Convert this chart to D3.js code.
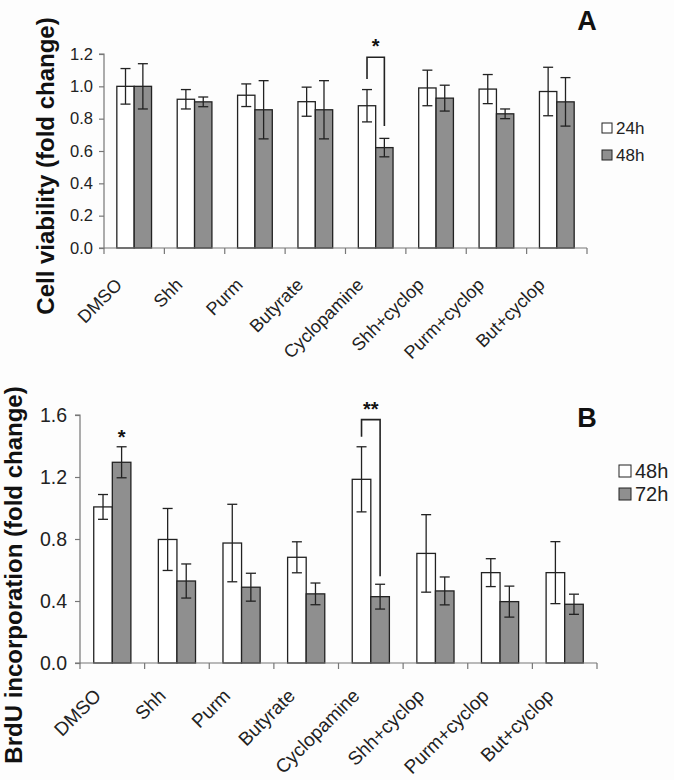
<!DOCTYPE html>
<html>
<head>
<meta charset="utf-8">
<script src="https://cdn.jsdelivr.net/npm/d3@7"></script>
<style>
  body { margin: 0; background: #fff; }
  svg { display: block; font-family: "Liberation Sans", Arial, sans-serif; }
</style>
</head>
<body>
<div id="chart"></div>
<script>
const width = 674;
const height = 780;

const categories = ["DMSO", "Shh", "Purm", "Butyrate", "Cyclopamine", "Shh+cyclop", "Purm+cyclop", "But+cyclop"];

// panel A - cell viability
const viabSeries = ["24h", "48h"];
const viab24 = [1.00, 0.92, 0.945, 0.905, 0.88, 0.99, 0.983, 0.968];
const viab24Err = [0.11, 0.06, 0.07, 0.09, 0.10, 0.11, 0.09, 0.15];
const viab48 = [1.00, 0.904, 0.855, 0.855, 0.621, 0.927, 0.83, 0.904];
const viab48Err = [0.14, 0.03, 0.18, 0.18, 0.057, 0.08, 0.03, 0.15];
const viabTicks = [0, 0.2, 0.4, 0.6, 0.8, 1.0, 1.2];

// panel B - BrdU incorporation
const brduSeries = ["48h", "72h"];
const brdu48 = [1.007, 0.797, 0.774, 0.682, 1.185, 0.707, 0.583, 0.583];
const brdu48Err = [0.08, 0.20, 0.25, 0.10, 0.21, 0.25, 0.09, 0.20];
const brdu72 = [1.295, 0.529, 0.489, 0.446, 0.428, 0.465, 0.396, 0.379];
const brdu72Err = [0.10, 0.11, 0.09, 0.07, 0.08, 0.09, 0.10, 0.065];
const brduTicks = [0, 0.4, 0.8, 1.2, 1.6];

const fills = ["#ffffff", "#8f8f8f"];

const svg = d3.select('#chart')
    .append('svg')
    .attr('width', width)
    .attr('height', height);

svg.append('rect').attr('width', width).attr('height', height).attr('fill', '#fdfdfd');

function drawPanel(p) {
    const g = svg.append('g');
    const x = d3.scaleBand().domain(categories).range([p.left, p.right]);
    const pair = x.bandwidth() * 0.575;
    const x1 = d3.scaleBand().domain(p.series).range([0, pair]);
    const y = d3.scaleLinear().domain([0, p.max]).range([p.bottom, p.top]);

    const rows = [];
    categories.forEach((c, i) => {
        p.values.forEach((vals, s) => {
            rows.push({ cat: c, s: s, v: vals[i], e: p.errors[s][i] });
        });
    });

    const bx = d => x(d.cat) + (x.bandwidth() - pair) / 2 + x1(p.series[d.s]);

    g.selectAll('.bar')
        .data(rows)
        .enter()
        .append('rect')
        .attr('x', bx)
        .attr('y', d => y(d.v))
        .attr('width', x1.bandwidth())
        .attr('height', d => y(0) - y(d.v))
        .attr('fill', d => fills[d.s])
        .attr('stroke', '#222')
        .attr('stroke-width', 1.3);

    // error bars
    const err = g.selectAll('.err')
        .data(rows)
        .enter()
        .append('g')
        .attr('stroke', '#222')
        .attr('stroke-width', 1.3);
    err.append('line')
        .attr('x1', d => bx(d) + x1.bandwidth() / 2)
        .attr('x2', d => bx(d) + x1.bandwidth() / 2)
        .attr('y1', d => y(d.v + d.e))
        .attr('y2', d => y(d.v - d.e));
    err.append('line')
        .attr('x1', d => bx(d) + x1.bandwidth() / 2 - 5)
        .attr('x2', d => bx(d) + x1.bandwidth() / 2 + 5)
        .attr('y1', d => y(d.v + d.e))
        .attr('y2', d => y(d.v + d.e));
    err.append('line')
        .attr('x1', d => bx(d) + x1.bandwidth() / 2 - 5)
        .attr('x2', d => bx(d) + x1.bandwidth() / 2 + 5)
        .attr('y1', d => y(d.v - d.e))
        .attr('y2', d => y(d.v - d.e));

    // y axis
    const yAxis = g.append('g')
        .attr('transform', `translate(${p.left},0)`)
        .call(d3.axisLeft(y).tickValues(p.ticks).tickFormat(d3.format('.1f')).tickSize(5).tickPadding(p.tickPad));
    yAxis.selectAll('path, line').attr('stroke', '#777').attr('stroke-width', 1.2);
    yAxis.select('.domain').attr('d', `M-5,${y(0)}H0V${y(p.max)}H-5`);
    yAxis.selectAll('text').attr('font-size', p.tickFont).attr('fill', '#222')
        .attr('font-family', '"Liberation Sans", Arial, sans-serif');

    // x axis with ticks at category boundaries
    const xg = g.append('g');
    xg.append('line')
        .attr('x1', p.left).attr('x2', p.right)
        .attr('y1', y(0)).attr('y2', y(0))
        .attr('stroke', '#777').attr('stroke-width', 1.2);
    const bounds = categories.map(c => x(c)).concat([p.right]);
    xg.selectAll('.xt')
        .data(bounds)
        .enter()
        .append('line')
        .attr('x1', d => d).attr('x2', d => d)
        .attr('y1', y(0)).attr('y2', y(0) + 6)
        .attr('stroke', '#777').attr('stroke-width', 1.2);
    xg.selectAll('.xl')
        .data(categories)
        .enter()
        .append('text')
        .attr('transform', c => `translate(${x(c) + x.bandwidth() / 2 + p.catDx},${y(0) + p.catDy}) rotate(-45)`)
        .attr('text-anchor', 'end')
        .attr('font-size', p.catFont)
        .attr('fill', '#222')
        .text(c => c);

    // y axis title
    g.append('text')
        .attr('transform', `translate(${p.titleX},${p.titleY}) rotate(-90)`)
        .attr('text-anchor', 'middle')
        .attr('font-size', p.titleFont)
        .attr('font-weight', 'bold')
        .attr('fill', '#111')
        .text(p.title);

    // panel letter
    g.append('text')
        .attr('x', p.letterX).attr('y', p.letterY)
        .attr('text-anchor', 'middle')
        .attr('font-size', 27)
        .attr('font-weight', 'bold')
        .attr('fill', '#111')
        .text(p.letter);

    // legend
    const leg = g.selectAll('.leg')
        .data(p.series)
        .enter()
        .append('g')
        .attr('transform', (d, i) => `translate(${p.legX},${p.legY + i * p.legGap})`);
    leg.append('rect')
        .attr('x', 0).attr('y', -p.legBox / 2)
        .attr('width', p.legBox).attr('height', p.legBox)
        .attr('fill', (d, i) => fills[i])
        .attr('stroke', '#222').attr('stroke-width', 1);
    leg.append('text')
        .attr('x', p.legBox + 4)
        .attr('dy', '0.36em')
        .attr('font-size', p.legFont)
        .attr('fill', '#222')
        .text(d => d);

    // significance marks
    p.marks.forEach(m => {
        const i = categories.indexOf(m.cat);
        const sx = s => x(categories[i]) + (x.bandwidth() - pair) / 2 + x1(p.series[s]) + x1.bandwidth() / 2;
        if (m.bracket) {
            const xa = sx(0), xb = sx(1);
            const topY = y(m.top);
            g.append('path')
                .attr('d', `M${xa},${y(m.leftEnd)}V${topY}H${xb}V${y(m.rightEnd)}`)
                .attr('fill', 'none')
                .attr('stroke', '#222')
                .attr('stroke-width', 1.6);
            g.append('text')
                .attr('x', (xa + xb) / 2).attr('y', topY - 4)
                .attr('text-anchor', 'middle')
                .attr('font-size', 20).attr('font-weight', 'bold')
                .attr('fill', '#111')
                .text(m.label);
        } else {
            g.append('text')
                .attr('x', sx(m.s)).attr('y', y(m.top) - 2)
                .attr('text-anchor', 'middle')
                .attr('font-size', 20).attr('font-weight', 'bold')
                .attr('fill', '#111')
                .text(m.label);
        }
    });
}

drawPanel({
    left: 104, right: 587, top: 54, bottom: 248, max: 1.2,
    series: viabSeries, values: [viab24, viab48], errors: [viab24Err, viab48Err],
    ticks: viabTicks, tickFont: 16.5, tickPad: 6,
    catFont: 18, catDx: -11, catDy: 38,
    title: 'Cell viability (fold change)', titleX: 54, titleY: 166, titleFont: 24,
    letter: 'A', letterX: 587, letterY: 30,
    legX: 602, legY: 128, legGap: 27, legBox: 10, legFont: 17,
    marks: [{ cat: 'Cyclopamine', bracket: true, top: 1.18, leftEnd: 1.045, rightEnd: 0.755, label: '*' }]
});

drawPanel({
    left: 80, right: 597, top: 415, bottom: 663, max: 1.6,
    series: brduSeries, values: [brdu48, brdu72], errors: [brdu48Err, brdu72Err],
    ticks: brduTicks, tickFont: 19.5, tickPad: 8,
    catFont: 19, catDx: -10, catDy: 34,
    title: 'BrdU incorporation (fold change)', titleX: 22, titleY: 575, titleFont: 24,
    letter: 'B', letterX: 587, letterY: 427,
    legX: 619, legY: 471, legGap: 23, legBox: 12, legFont: 20,
    marks: [
        { cat: 'DMSO', s: 1, top: 1.40, label: '*' },
        { cat: 'Cyclopamine', bracket: true, top: 1.57, leftEnd: 1.46, rightEnd: 0.56, label: '**' }
    ]
});
</script>
</body>
</html>
